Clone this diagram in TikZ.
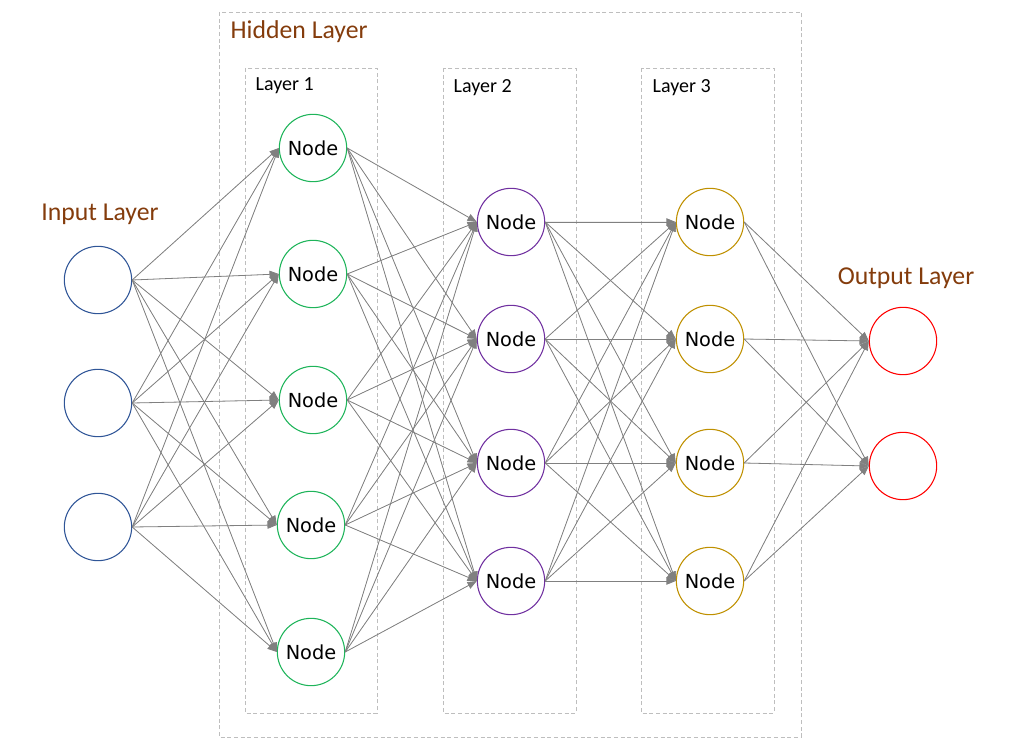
\documentclass[tikz,border=0pt]{standalone}
\usepackage{fontspec}
\setmainfont{Carlito}
\newfontfamily\nodefont{DejaVu Sans}
\usetikzlibrary{arrows.meta}
\definecolor{inblue}{RGB}{47,85,151}
\definecolor{lgreen}{RGB}{30,180,90}
\definecolor{lpurple}{RGB}{112,48,160}
\definecolor{lgold}{RGB}{191,144,0}
\definecolor{outred}{RGB}{255,0,0}
\definecolor{titlebrown}{RGB}{132,60,12}
\definecolor{conngray}{RGB}{128,128,128}
\definecolor{boxgray}{RGB}{190,190,190}
\begin{document}
\begin{tikzpicture}[x=0.75pt,y=-0.75pt,
  neuron/.style={circle, draw, minimum size=50.5pt, inner sep=0pt, line width=0.8pt,
     font=\nodefont\fontsize{14.5}{17}\selectfont},
  conn/.style={draw=conngray, line width=0.6pt, -{Triangle[length=7pt,width=5.5pt]}, fill=conngray},
  boxd/.style={draw=boxgray, dash pattern=on 3pt off 2pt, line width=0.6pt},
  ttl/.style={text=titlebrown, font=\fontsize{19.3}{23}\selectfont},
  sub/.style={text=black, font=\fontsize{15}{18}\selectfont, anchor=west}]
\useasboundingbox (0,0) rectangle (1016,745);
% boxes
\draw[boxd] (219,12) rectangle (801,737);
\draw[boxd] (245,68) rectangle (377,713);
\draw[boxd] (443,68) rectangle (576,713);
\draw[boxd] (641,68) rectangle (774,713);
% labels
\node[ttl, anchor=west] (thid) at (226,32) {Hidden Layer};
\node[ttl] (tin) at (100,214) {Input Layer};
\node[ttl] (tout) at (906,278) {Output Layer};
\node[sub] (t1) at (251,86) {Layer 1};
\node[sub] (t2) at (449,88) {Layer 2};
\node[sub] (t3) at (648,88) {Layer 3};
% neurons
\node[neuron, draw=inblue] (i1) at (98,280) {};
\node[neuron, draw=inblue] (i2) at (98,403) {};
\node[neuron, draw=inblue] (i3) at (98,527) {};
\node[neuron, draw=lgreen] (a1) at (313,148) {Node};
\node[neuron, draw=lgreen] (a2) at (313,274) {Node};
\node[neuron, draw=lgreen] (a3) at (313,400) {Node};
\node[neuron, draw=lgreen] (a4) at (311,525) {Node};
\node[neuron, draw=lgreen] (a5) at (311,652) {Node};
\node[neuron, draw=lpurple] (b1) at (511,222) {Node};
\node[neuron, draw=lpurple] (b2) at (511,339) {Node};
\node[neuron, draw=lpurple] (b3) at (511,463) {Node};
\node[neuron, draw=lpurple] (b4) at (511,581) {Node};
\node[neuron, draw=lgold] (c1) at (710,222) {Node};
\node[neuron, draw=lgold] (c2) at (710,339) {Node};
\node[neuron, draw=lgold] (c3) at (710,463) {Node};
\node[neuron, draw=lgold] (c4) at (710,581) {Node};
\node[neuron, draw=outred] (o1) at (903,341) {};
\node[neuron, draw=outred] (o2) at (903,466) {};
% connections
\foreach \s in {1,2,3}{\foreach \t in {1,...,5}{\draw[conn] (i\s.east) -- (a\t.west);}}
\foreach \s in {1,...,5}{\foreach \t in {1,...,4}{\draw[conn] (a\s.east) -- (b\t.west);}}
\foreach \s in {1,...,4}{\foreach \t in {1,...,4}{\draw[conn] (b\s.east) -- (c\t.west);}}
\foreach \s in {1,...,4}{\foreach \t in {1,2}{\draw[conn] (c\s.east) -- (o\t.west);}}
\end{tikzpicture}
\end{document}
